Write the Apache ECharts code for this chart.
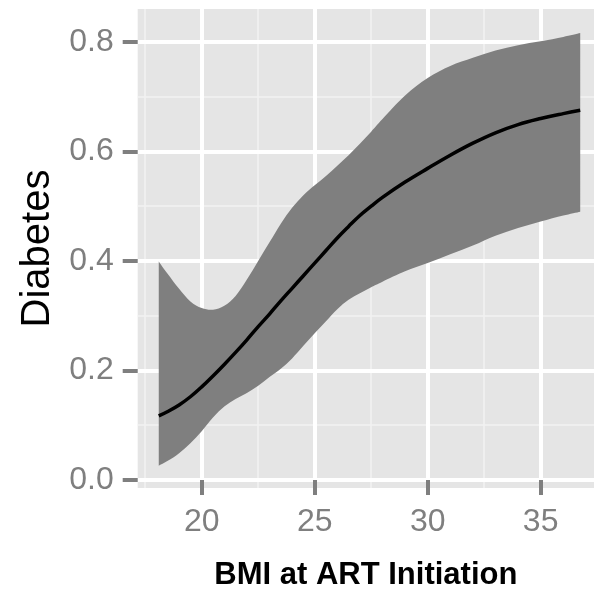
<!DOCTYPE html>
<html>
<head>
<meta charset="utf-8">
<script src="https://cdn.jsdelivr.net/npm/echarts@6/dist/echarts.min.js"></script>
<style>
  html, body { margin: 0; padding: 0; background: #ffffff; }
  #chart { width: 594px; height: 589px; }
</style>
</head>
<body>
<div id="chart"></div>
<script>
// BMI values at which the smoothed fit was evaluated
const bmi = [18.1, 18.5, 19, 19.5, 20, 20.5, 21, 21.5, 22, 22.5, 23, 23.5, 24, 24.5, 25,
             25.5, 26, 26.5, 27, 27.5, 28, 29, 30, 31, 32, 33, 34, 35, 36, 36.75];
// fitted probability of diabetes
const fit = [0.117, 0.125, 0.137, 0.152, 0.170, 0.190, 0.211, 0.233, 0.256, 0.280, 0.303,
             0.327, 0.350, 0.373, 0.396, 0.419, 0.442, 0.463, 0.483, 0.500, 0.516, 0.544,
             0.569, 0.593, 0.615, 0.634, 0.649, 0.660, 0.669, 0.675];
// confidence band
const lower = [0.026, 0.035, 0.049, 0.067, 0.089, 0.114, 0.134, 0.148, 0.159, 0.172, 0.188,
               0.203, 0.222, 0.245, 0.268, 0.290, 0.312, 0.329, 0.341, 0.352, 0.362, 0.381,
               0.396, 0.412, 0.428, 0.446, 0.460, 0.472, 0.483, 0.490];
const upper = [0.399, 0.376, 0.349, 0.326, 0.314, 0.311, 0.318, 0.336, 0.366, 0.400, 0.434,
               0.468, 0.497, 0.520, 0.538, 0.555, 0.574, 0.593, 0.614, 0.636, 0.659, 0.702,
               0.734, 0.756, 0.771, 0.784, 0.794, 0.801, 0.809, 0.816];

// axis breaks
const xTicks = [20, 25, 30, 35];
const xMinor = [17.5, 22.5, 27.5, 32.5];
const yTicks = [0, 0.2, 0.4, 0.6, 0.8];
const yMinor = [0.1, 0.3, 0.5, 0.7];
const xRange = [17.168, 37.36];
const yRange = [-0.0146, 0.86];

const xTitle = 'BMI at ART Initiation';
const yTitle = 'Diabetes';

const tickGrey = '#7F7F7F';
const labelFont = 'Liberation Sans, Arial, Helvetica, sans-serif';

// rows: [bmi, lower, upper]
const bandRows = bmi.map((x, i) => [x, lower[i], upper[i]]);
const fitRows = bmi.map((x, i) => [x, fit[i]]);

// Catmull-Rom spline through pixel points, emitted as cubic Bezier path commands
function splineCommands(pts) {
  let d = '';
  for (let i = 0; i < pts.length - 1; i++) {
    const p0 = pts[Math.max(i - 1, 0)];
    const p1 = pts[i];
    const p2 = pts[i + 1];
    const p3 = pts[Math.min(i + 2, pts.length - 1)];
    const c1x = p1[0] + (p2[0] - p0[0]) / 6, c1y = p1[1] + (p2[1] - p0[1]) / 6;
    const c2x = p2[0] - (p3[0] - p1[0]) / 6, c2y = p2[1] - (p3[1] - p1[1]) / 6;
    d += ` C${c1x},${c1y} ${c2x},${c2y} ${p2[0]},${p2[1]}`;
  }
  return d;
}

// the confidence ribbon: upper edge left to right, lower edge back, closed
function renderBand(params, api) {
  if (params.dataIndex !== 0) return null;
  const top = bandRows.map((r) => api.coord([r[0], r[2]]));
  const bottom = bandRows.map((r) => api.coord([r[0], r[1]])).reverse();
  const d = `M${top[0][0]},${top[0][1]}` + splineCommands(top) +
            ` L${bottom[0][0]},${bottom[0][1]}` + splineCommands(bottom) + ' Z';
  return {
    type: 'path',
    shape: { pathData: d },
    style: { fill: '#7F7F7F', stroke: null },
    silent: true
  };
}

const chart = echarts.init(document.getElementById('chart'), null, { renderer: 'canvas' });

chart.setOption({
  backgroundColor: '#ffffff',
  animation: false,
  grid: {
    left: 137.7, right: 0, top: 9, bottom: 101,
    outerBoundsMode: 'none', containLabel: false,
    show: true, backgroundColor: '#E5E5E5', borderWidth: 0, z: 0
  },
  xAxis: [
    {
      type: 'value', min: xRange[0], max: xRange[1], z: 2,
      axisLine: { show: false },
      axisTick: { show: true, customValues: xTicks, length: 15, lineStyle: { color: tickGrey, width: 4 } },
      axisLabel: { show: true, customValues: xTicks, margin: 18, color: tickGrey, fontSize: 32, fontFamily: labelFont },
      splitLine: { show: true, lineStyle: { color: '#ffffff', width: 4 } },
      name: xTitle, nameLocation: 'middle', nameGap: 72,
      nameTextStyle: { color: '#000000', fontSize: 31, fontWeight: 'bold', fontFamily: labelFont }
    },
    {
      type: 'value', min: xRange[0], max: xRange[1], z: 1, position: 'top',
      axisLine: { show: false },
      axisTick: { show: false, customValues: xMinor },
      axisLabel: { show: false, customValues: xMinor },
      splitLine: { show: true, lineStyle: { color: '#F2F2F2', width: 1.5 } }
    }
  ],
  yAxis: [
    {
      type: 'value', min: yRange[0], max: yRange[1], z: 2,
      axisLine: { show: false },
      axisTick: { show: true, customValues: yTicks, length: 15, lineStyle: { color: tickGrey, width: 4 } },
      axisLabel: {
        show: true, customValues: yTicks, margin: 24, color: tickGrey, fontSize: 32, fontFamily: labelFont,
        formatter: (v) => v.toFixed(1)
      },
      splitLine: { show: true, lineStyle: { color: '#ffffff', width: 4 } },
      name: yTitle, nameLocation: 'middle', nameGap: 79, nameRotate: 90,
      nameTextStyle: { color: '#000000', fontSize: 40, fontFamily: labelFont }
    },
    {
      type: 'value', min: yRange[0], max: yRange[1], z: 1, position: 'right',
      axisLine: { show: false },
      axisTick: { show: false, customValues: yMinor },
      axisLabel: { show: false, customValues: yMinor },
      splitLine: { show: true, lineStyle: { color: '#F2F2F2', width: 1.5 } }
    }
  ],
  series: [
    {
      name: 'band', type: 'custom', data: bandRows,
      xAxisIndex: 0, yAxisIndex: 0, z: 3,
      encode: { x: 0, y: [1, 2] },
      renderItem: renderBand, silent: true
    },
    {
      name: 'fit', type: 'line', data: fitRows,
      xAxisIndex: 0, yAxisIndex: 0, z: 4,
      symbol: 'none', smooth: 0.4, lineStyle: { color: '#000000', width: 3.5 }
    }
  ]
});
</script>
</body>
</html>
